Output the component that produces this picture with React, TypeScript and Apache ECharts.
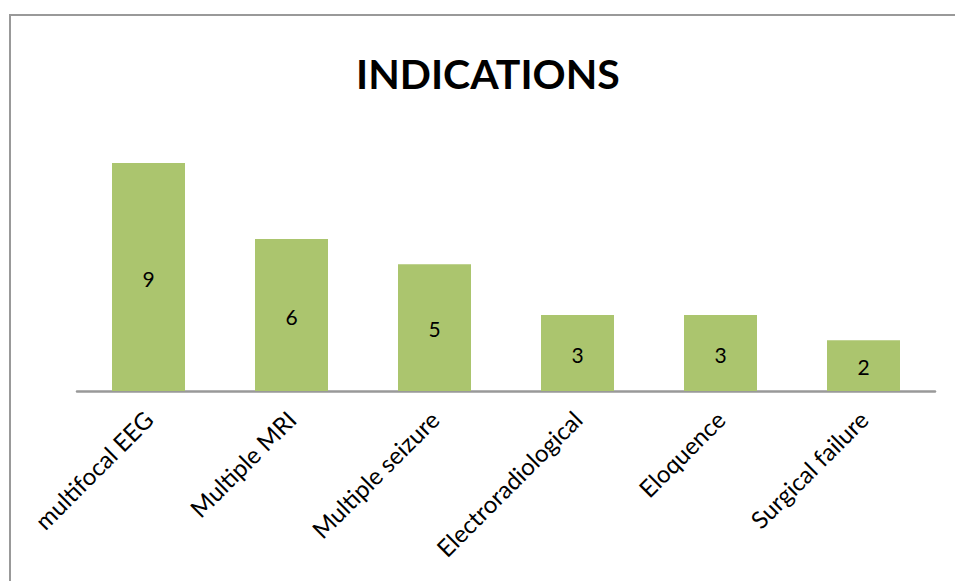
import React, { useEffect, useRef } from "react";
import * as echarts from "echarts";

const categories = [
  "multifocal EEG",
  "Multiple MRI",
  "Multiple seizure",
  "Electroradiological",
  "Eloquence",
  "Surgical failure",
];
const values = [9, 6, 5, 3, 3, 2];
const titleText = "INDICATIONS";

export default function App() {
  const ref = useRef<HTMLDivElement>(null);
  useEffect(() => {
    if (!ref.current) return;
    const chart = echarts.init(ref.current, undefined, { renderer: "svg" });
    const font = "Lato, 'Open Sans', sans-serif";
    chart.setOption({
      animation: false,
      backgroundColor: "#ffffff",
      title: {
        text: titleText,
        left: 351,
        top: 48,
        textStyle: {
          fontFamily: font,
          fontWeight: "bold",
          fontSize: 41,
          color: "#000000",
        },
      },
      graphic: [
        {
          type: "rect",
          shape: { x: 10, y: 15, width: 980, height: 620 },
          style: { fill: "none", stroke: "#999999", lineWidth: 2 },
          silent: true,
        },
      ],
      grid: { left: 77, right: 20, top: 137.7, bottom: 190 },
      xAxis: {
        type: "category",
        data: categories,
        axisLine: { lineStyle: { color: "#999999", width: 2.5 } },
        axisTick: { show: false },
        axisLabel: {
          rotate: 45,
          interval: 0,
          margin: 24,
          fontFamily: font,
          fontSize: 24,
          color: "#000000",
        },
      },
      yAxis: {
        type: "value",
        min: 0,
        max: 10,
        show: false,
        splitLine: { show: false },
      },
      series: [
        {
          type: "bar",
          data: values,
          barWidth: 73,
          itemStyle: { color: "#ABC56E" },
          label: {
            show: true,
            position: "inside",
            offset: [0, 1],
            fontFamily: font,
            fontSize: 21,
            color: "#000000",
          },
        },
      ],
    });
    return () => chart.dispose();
  }, []);
  return (
    <div
      ref={ref}
      style={{ position: "fixed", left: 0, top: 0, width: 955, height: 581 }}
    />
  );
}
